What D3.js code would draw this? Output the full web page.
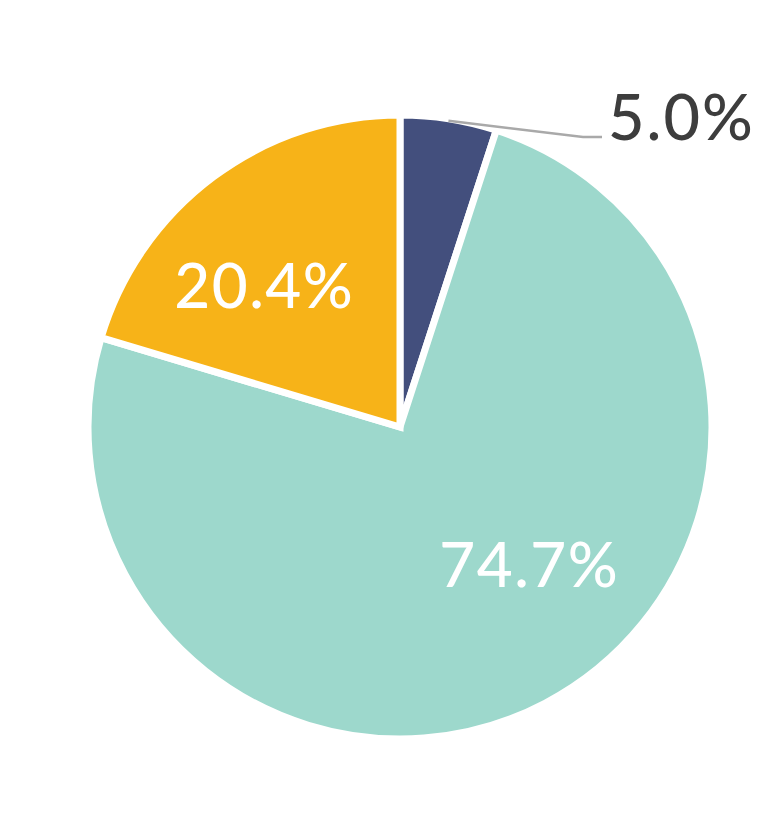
<!DOCTYPE html>
<html><head><meta charset="utf-8">
<script src="https://cdn.jsdelivr.net/npm/d3@7"></script>
<style>html,body{margin:0;padding:0;background:#fff;}</style>
</head><body>
<svg id="chart" width="764" height="815"></svg>
<script>
const categories = ["A", "B", "C"];
const values = [5.0, 74.7, 20.4];
const labels = ["5.0%", "74.7%", "20.4%"];
const colors = ["#434f7d", "#9dd8cc", "#f7b318"];

const svg = d3.select("#chart");
const cx = 400, cy = 427, r = 312;
const g = svg.append("g").attr("transform", `translate(${cx},${cy})`);

const pie = d3.pie().sort(null).value(d => d.v);
const data = pie(categories.map((c, i) => ({c, v: values[i], label: labels[i], color: colors[i]})));
const arc = d3.arc().innerRadius(0).outerRadius(r);

g.selectAll("path.slice").data(data).enter().append("path")
  .attr("class", "slice")
  .attr("d", arc)
  .attr("fill", d => d.data.color)
  .attr("stroke", "#fff")
  .attr("stroke-width", 7)
  .attr("stroke-linejoin", "miter");

const font = "Lato, 'Open Sans', sans-serif";

const labelPos = (d, rad, dAng) => {
  const a = (d.startAngle + d.endAngle) / 2 + dAng;
  return [rad * Math.sin(a), -rad * Math.cos(a)];
};
const inner = [
  {d: data[1], rad: 188, dAng: -0.275},
  {d: data[2], rad: 197, dAng: -0.12}
];
inner.forEach(o => {
  const [x, y] = labelPos(o.d, o.rad, o.dAng);
  g.append("text").attr("x", x).attr("y", y)
    .attr("text-anchor", "middle").attr("dominant-baseline", "central")
    .attr("fill", "#fff").attr("font-family", font)
    .attr("font-size", 62).attr("font-weight", 500)
    .attr("letter-spacing", 1.5)
    .text(o.d.data.label);
});

const s = data[0];
const a0 = (s.startAngle + s.endAngle) / 2;
const p1 = [(r - 2) * Math.sin(a0), -(r - 2) * Math.cos(a0)];
const p2 = [183, -290];
const p3 = [202, -290];
g.append("polyline")
  .attr("points", [p1, p2, p3].map(p => p.join(",")).join(" "))
  .attr("fill", "none").attr("stroke", "#a9a9a9").attr("stroke-width", 2.5);
g.append("text").attr("x", 208).attr("y", -287)
  .attr("fill", "#3d3d3d").attr("font-family", font)
  .attr("font-size", 63).attr("font-weight", 500)
  .attr("letter-spacing", 2)
  .text(s.data.label);
</script>
</body></html>
